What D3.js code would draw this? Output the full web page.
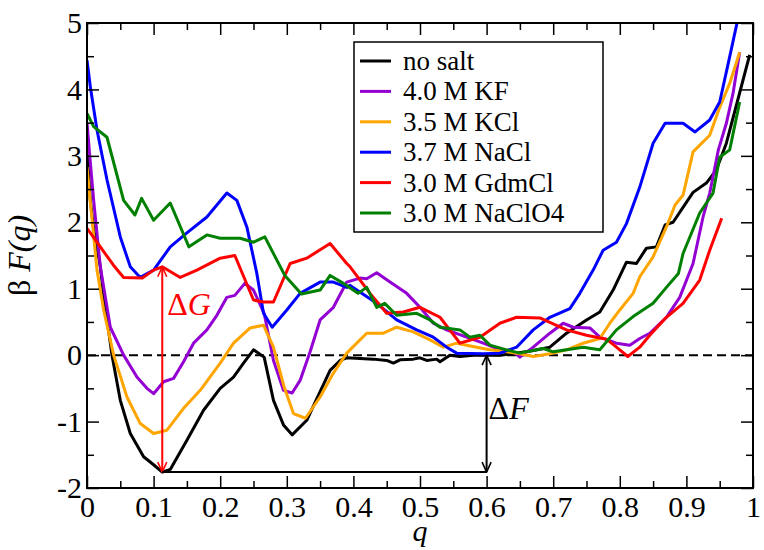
<!DOCTYPE html>
<meta charset="utf-8">
<head>
  <title>Free energy profiles</title>
  <script src="https://d3js.org/d3.v7.min.js"></script>
  <style>
    body { margin: 0; background: #fff; }
  </style>
</head>
<body>
<div id="chart"></div>
<script>

// each curve is a list of [q, beta F(q)] pairs
var noSalt = [[0,3.1],[0.005,2.33],[0.01,1.9],[0.02,1.33],[0.025,0.9],[0.0375,0],[0.05,-0.68],[0.065,-1.18],[0.085,-1.53],[0.1,-1.65],[0.113,-1.76],[0.125,-1.72],[0.15,-1.28],[0.175,-0.83],[0.2,-0.5],[0.22,-0.33],[0.235,-0.12],[0.25,0.08],[0.266,-0.03],[0.28,-0.68],[0.295,-1.05],[0.308,-1.2],[0.33,-0.98],[0.35,-0.55],[0.365,-0.23],[0.38,-0.08],[0.39,-0.04],[0.41,-0.05],[0.43,-0.06],[0.45,-0.08],[0.46,-0.12],[0.47,-0.07],[0.49,-0.06],[0.5,-0.04],[0.51,-0.08],[0.525,-0.06],[0.53,-0.1],[0.545,0],[0.56,-0.02],[0.58,0],[0.6,0],[0.62,0],[0.645,0.03],[0.67,0.07],[0.695,0.12],[0.72,0.33],[0.75,0.53],[0.77,0.65],[0.79,0.98],[0.81,1.4],[0.825,1.38],[0.84,1.61],[0.855,1.63],[0.868,1.96],[0.88,2.0],[0.91,2.45],[0.93,2.59],[0.945,2.79],[0.96,3.19],[0.98,3.95],[0.995,4.52]];

var kf = [[0,3.5],[0.005,2.9],[0.01,2.33],[0.02,1.33],[0.035,0.42],[0.055,0],[0.075,-0.33],[0.09,-0.5],[0.1,-0.58],[0.115,-0.4],[0.13,-0.35],[0.145,-0.1],[0.16,0.18],[0.18,0.38],[0.195,0.6],[0.21,0.87],[0.222,0.9],[0.237,1.08],[0.25,0.98],[0.266,0.63],[0.28,-0.08],[0.295,-0.53],[0.308,-0.57],[0.32,-0.38],[0.335,0.05],[0.35,0.53],[0.37,0.72],[0.39,1.1],[0.41,1.16],[0.42,1.15],[0.435,1.24],[0.455,1.1],[0.48,0.93],[0.5,0.72],[0.52,0.48],[0.54,0.38],[0.57,0.27],[0.595,0.18],[0.62,0.08],[0.64,0.05],[0.65,-0.03],[0.67,0.12],[0.695,0.33],[0.715,0.48],[0.73,0.42],[0.755,0.41],[0.77,0.27],[0.795,0.18],[0.815,0.15],[0.83,0.25],[0.845,0.33],[0.87,0.57],[0.89,0.87],[0.91,1.38],[0.925,2.08],[0.935,2.44],[0.948,3.09],[0.96,3.49],[0.97,3.94],[0.98,4.56]];

var kcl = [[0,2.83],[0.005,2.3],[0.01,1.8],[0.015,1.28],[0.025,0.68],[0.04,0],[0.06,-0.63],[0.08,-1.03],[0.1,-1.18],[0.12,-1.13],[0.145,-0.8],[0.17,-0.53],[0.2,-0.12],[0.22,0.18],[0.245,0.41],[0.265,0.45],[0.28,0.12],[0.296,-0.48],[0.31,-0.88],[0.328,-0.95],[0.35,-0.63],[0.37,-0.27],[0.39,0.03],[0.405,0.18],[0.42,0.33],[0.445,0.33],[0.465,0.42],[0.49,0.35],[0.515,0.23],[0.535,0.12],[0.555,0.18],[0.585,0.12],[0.605,0.08],[0.63,0.05],[0.65,0.02],[0.67,-0.02],[0.695,0.02],[0.72,0.08],[0.745,0.18],[0.77,0.25],[0.785,0.48],[0.8,0.68],[0.82,0.93],[0.83,1.18],[0.85,1.48],[0.87,1.93],[0.883,2.26],[0.895,2.41],[0.91,3.06],[0.935,3.31],[0.95,3.73],[0.965,4.09],[0.98,4.56]];

var nacl = [[0,4.44],[0.005,4.04],[0.015,3.39],[0.03,2.64],[0.05,1.78],[0.065,1.33],[0.08,1.17],[0.1,1.28],[0.125,1.63],[0.15,1.84],[0.18,2.08],[0.21,2.44],[0.225,2.33],[0.24,1.93],[0.255,1.23],[0.265,0.63],[0.278,0.42],[0.3,0.68],[0.32,0.93],[0.35,1.1],[0.37,1.1],[0.39,1.02],[0.395,1.05],[0.435,0.78],[0.465,0.53],[0.495,0.38],[0.52,0.27],[0.54,0.12],[0.555,0.03],[0.595,0.02],[0.62,0.03],[0.645,0.12],[0.67,0.38],[0.695,0.57],[0.725,0.7],[0.74,0.93],[0.76,1.28],[0.775,1.58],[0.795,1.7],[0.81,1.98],[0.83,2.53],[0.85,3.19],[0.868,3.49],[0.895,3.49],[0.913,3.36],[0.935,3.54],[0.95,3.81],[0.963,4.4],[0.976,5.0]];

var gdmcl = [[0,1.91],[0.02,1.63],[0.04,1.35],[0.055,1.17],[0.083,1.16],[0.1,1.28],[0.113,1.33],[0.14,1.17],[0.165,1.28],[0.2,1.46],[0.222,1.5],[0.25,0.83],[0.265,0.8],[0.28,0.8],[0.305,1.38],[0.33,1.46],[0.365,1.68],[0.39,1.38],[0.395,1.33],[0.425,0.93],[0.45,0.63],[0.475,0.65],[0.5,0.72],[0.53,0.57],[0.56,0.18],[0.59,0.27],[0.62,0.48],[0.645,0.57],[0.68,0.56],[0.72,0.38],[0.75,0.3],[0.78,0.24],[0.795,0.12],[0.812,-0.02],[0.83,0.12],[0.845,0.3],[0.87,0.57],[0.895,0.78],[0.92,1.13],[0.935,1.58],[0.953,2.06]];

var naclo4 = [[0,3.64],[0.01,3.44],[0.03,3.28],[0.055,2.33],[0.072,2.11],[0.082,2.36],[0.1,2.03],[0.125,2.29],[0.153,1.63],[0.18,1.81],[0.2,1.76],[0.23,1.76],[0.25,1.7],[0.267,1.78],[0.297,1.2],[0.322,0.92],[0.35,0.98],[0.365,1.2],[0.385,1.08],[0.407,0.93],[0.42,1.02],[0.435,0.72],[0.447,0.78],[0.465,0.6],[0.495,0.63],[0.515,0.53],[0.53,0.42],[0.56,0.38],[0.575,0.27],[0.59,0.3],[0.605,0.15],[0.63,0.08],[0.65,0.03],[0.685,0.1],[0.7,0.05],[0.72,0.08],[0.745,0.12],[0.77,0.08],[0.795,0.38],[0.82,0.58],[0.85,0.78],[0.87,1.02],[0.888,1.23],[0.895,1.53],[0.92,2.14],[0.94,2.44],[0.95,2.98],[0.965,3.09],[0.98,3.81]];

var seriesNames = ["no salt", "4.0 M KF", "3.5 M KCl", "3.7 M NaCl", "3.0 M GdmCl", "3.0 M NaClO4"];
var seriesColors = ["#000000", "#9400d3", "#ffa500", "#0000ff", "#ff0000", "#008000"];
var seriesData = [noSalt, kf, kcl, nacl, gdmcl, naclo4];

var xTicks = [0, 0.1, 0.2, 0.3, 0.4, 0.5, 0.6, 0.7, 0.8, 0.9, 1];
var xMinor = [0.05, 0.15, 0.25, 0.35, 0.45, 0.55, 0.65, 0.75, 0.85, 0.95];
var yTicks = [-2, -1, 0, 1, 2, 3, 4, 5];
var yMinor = [-1.5, -0.5, 0.5, 1.5, 2.5, 3.5, 4.5];

// annotation anchors (q, value)
var dGq = 0.113, dGtop = 1.33, dGbottom = -1.76;
var dFq = 0.6, dFtop = 0, dFbottom = -1.76;

var serif = "'Liberation Serif', 'DejaVu Serif', serif";

var margin = {top: 23, right: 11, bottom: 62, left: 87},
    width = 764 - margin.left - margin.right,
    height = 550 - margin.top - margin.bottom;

var svg = d3.select("#chart")
  .append("svg")
    .attr("width", 764)
    .attr("height", 550)
    .style("font-family", serif)
  .append("g")
    .attr("transform", "translate(" + margin.left + "," + margin.top + ")");

var x = d3.scaleLinear().domain([0, 1]).range([0, width]);
var y = d3.scaleLinear().domain([-2, 5]).range([height, 0]);

svg.append("defs").append("clipPath").attr("id", "plotclip")
  .append("rect").attr("width", width).attr("height", height);

svg.select("defs").selectAll("marker")
  .data([["arrRed", "#ff0000"], ["arrBlack", "#000000"]])
  .enter().append("marker")
    .attr("id", function(d) { return d[0]; })
    .attr("viewBox", "0 0 12 12")
    .attr("refX", 11).attr("refY", 6)
    .attr("markerWidth", 12).attr("markerHeight", 12)
    .attr("markerUnits", "userSpaceOnUse")
    .attr("orient", "auto-start-reverse")
  .append("path")
    .attr("d", "M1,1.5 L11,6 L1,10.5")
    .attr("fill", "none")
    .attr("stroke", function(d) { return d[1]; })
    .attr("stroke-width", 1.6);

// zero line
svg.append("line")
  .attr("x1", 0).attr("x2", width)
  .attr("y1", y(0)).attr("y2", y(0))
  .attr("stroke", "#000").attr("stroke-width", 2)
  .attr("stroke-dasharray", "9,5");

// curves
var line = d3.line()
  .x(function(d) { return x(d[0]); })
  .y(function(d) { return y(d[1]); });

svg.append("g").attr("clip-path", "url(#plotclip)")
  .selectAll("path")
  .data(seriesData)
  .enter().append("path")
    .attr("d", line)
    .attr("fill", "none")
    .attr("stroke", function(d, i) { return seriesColors[i]; })
    .attr("stroke-width", 3)
    .attr("stroke-linejoin", "round");

// axes, ticks pointing inward on all four sides
function styleAxis(g) {
  g.attr("font-family", null).attr("font-size", null);
  g.select(".domain").remove();
  g.selectAll("line").attr("stroke", "#000").attr("stroke-width", 1.5);
  g.selectAll("text").style("font-family", serif).style("font-size", "30px").attr("fill", "#000");
}

var fmt = function(d) { return String(d); };

svg.append("g").attr("transform", "translate(0," + height + ")")
  .call(d3.axisBottom(x).tickValues(xTicks).tickFormat(fmt).tickSize(-12).tickPadding(8))
  .call(styleAxis);
svg.append("g").attr("transform", "translate(0," + height + ")")
  .call(d3.axisBottom(x).tickValues(xMinor).tickFormat("").tickSize(-7))
  .call(styleAxis);
svg.append("g")
  .call(d3.axisTop(x).tickValues(xTicks).tickFormat("").tickSize(-12))
  .call(styleAxis);
svg.append("g")
  .call(d3.axisTop(x).tickValues(xMinor).tickFormat("").tickSize(-7))
  .call(styleAxis);

svg.append("g")
  .call(d3.axisLeft(y).tickValues(yTicks).tickFormat(fmt).tickSize(-12).tickPadding(5))
  .call(styleAxis);
svg.append("g")
  .call(d3.axisLeft(y).tickValues(yMinor).tickFormat("").tickSize(-7))
  .call(styleAxis);
svg.append("g").attr("transform", "translate(" + width + ",0)")
  .call(d3.axisRight(y).tickValues(yTicks).tickFormat("").tickSize(-12))
  .call(styleAxis);
svg.append("g").attr("transform", "translate(" + width + ",0)")
  .call(d3.axisRight(y).tickValues(yMinor).tickFormat("").tickSize(-7))
  .call(styleAxis);

svg.append("rect")
  .attr("width", width).attr("height", height)
  .attr("fill", "none").attr("stroke", "#000").attr("stroke-width", 2);

// axis titles
var yl = svg.append("text")
  .attr("transform", "translate(-57," + (height / 2) + ") rotate(-90)")
  .attr("text-anchor", "middle")
  .style("font-family", serif).style("font-size", "32px");
yl.append("tspan").text("β ");
yl.append("tspan").style("font-style", "italic").text("F(q)");

svg.append("text")
  .attr("x", width / 2).attr("y", height + 53)
  .attr("text-anchor", "middle")
  .style("font-family", serif).style("font-size", "30px").style("font-style", "italic")
  .text("q");

// Delta G arrow
svg.append("line")
  .attr("x1", x(dGq)).attr("x2", x(dGq))
  .attr("y1", y(dGtop)).attr("y2", y(dGbottom))
  .attr("stroke", "#ff0000").attr("stroke-width", 2)
  .attr("marker-start", "url(#arrRed)").attr("marker-end", "url(#arrRed)");
var gl = svg.append("text")
  .attr("x", x(dGq) + 5).attr("y", y(dGtop) + 48)
  .style("font-family", serif).style("font-size", "32px").attr("fill", "#ff0000");
gl.append("tspan").text("Δ");
gl.append("tspan").style("font-style", "italic").text("G");

// Delta F arrow and baseline
svg.append("line")
  .attr("x1", x(dGq)).attr("x2", x(dFq))
  .attr("y1", y(dFbottom)).attr("y2", y(dFbottom))
  .attr("stroke", "#000").attr("stroke-width", 2);
svg.append("line")
  .attr("x1", x(dFq)).attr("x2", x(dFq))
  .attr("y1", y(dFtop)).attr("y2", y(dFbottom))
  .attr("stroke", "#000").attr("stroke-width", 2)
  .attr("marker-start", "url(#arrBlack)").attr("marker-end", "url(#arrBlack)");
var fl = svg.append("text")
  .attr("x", x(dFq) + 2).attr("y", y(dFtop) + 64)
  .style("font-family", serif).style("font-size", "32px").attr("fill", "#000");
fl.append("tspan").text("Δ");
fl.append("tspan").style("font-style", "italic").text("F");

// legend
var legend = svg.append("g").attr("transform", "translate(" + (354 - margin.left) + "," + (42 - margin.top) + ")");
legend.append("rect")
  .attr("width", 249).attr("height", 190)
  .attr("fill", "#fff").attr("stroke", "#000").attr("stroke-width", 1.5);
var rows = legend.selectAll(".row")
  .data(seriesNames)
  .enter().append("g")
    .attr("class", "row")
    .attr("transform", function(d, i) { return "translate(0," + (19 + i * 30.4) + ")"; });
rows.append("line")
  .attr("x1", 6).attr("x2", 37)
  .attr("stroke", function(d, i) { return seriesColors[i]; })
  .attr("stroke-width", 3);
rows.append("text")
  .attr("x", 49).attr("y", 9)
  .style("font-family", serif).style("font-size", "27px")
  .text(function(d) { return d; });

</script>
</body>
